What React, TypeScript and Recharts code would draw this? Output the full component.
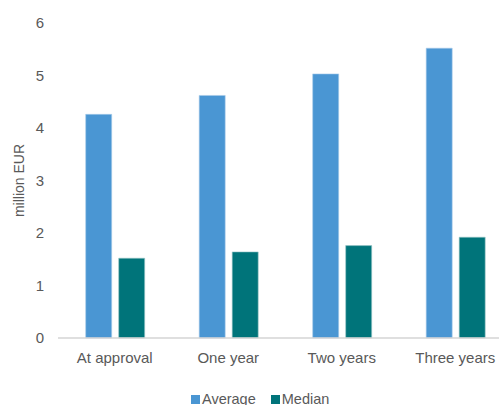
import React from 'react';
import { BarChart, Bar, XAxis, YAxis, Legend, Label } from 'recharts';

// Financing amount per project over time (million EUR)
const categories = ['At approval', 'One year', 'Two years', 'Three years'];
const averageValues = [4.26, 4.62, 5.03, 5.52];
const medianValues = [1.52, 1.64, 1.76, 1.92];
const yTicks = [0, 1, 2, 3, 4, 5, 6];

const AVG_COLOR = '#4A96D3';
const MED_COLOR = '#00747A';
const TEXT_COLOR = '#595959';
const FONT = '"Liberation Sans", Arial, sans-serif';

const data = categories.map((name, i) => ({
  name,
  Average: averageValues[i],
  Median: medianValues[i],
}));

const LegendContent = () => (
  <div
    style={{
      display: 'flex',
      alignItems: 'center',
      fontFamily: FONT,
      fontSize: 14.5,
      color: TEXT_COLOR,
      height: 20,
      lineHeight: '20px',
    }}
  >
    {[
      { label: 'Average', color: AVG_COLOR },
      { label: 'Median', color: MED_COLOR },
    ].map((item, i) => (
      <span
        key={item.label}
        style={{ display: 'inline-flex', alignItems: 'center', marginRight: i === 0 ? 15 : 0 }}
      >
        <span
          style={{ display: 'inline-block', width: 9, height: 9, background: item.color, marginRight: 2 }}
        />
        {item.label}
      </span>
    ))}
  </div>
);

const YLabel = (props: any) => {
  const vb = props.viewBox || {};
  const cy = vb.y + vb.height / 2;
  return (
    <text
      x={19}
      y={cy}
      transform={`rotate(-90, 19, ${cy})`}
      textAnchor="middle"
      dominantBaseline="central"
      fill={TEXT_COLOR}
      fontFamily={FONT}
      fontSize={14}
    >
      million EUR
    </text>
  );
};

export default function App() {
  return (
    <div
      style={{
        position: 'fixed',
        left: 0,
        top: 0,
        width: 499,
        height: 405,
        overflow: 'hidden',
        background: '#ffffff',
      }}
    >
      <BarChart
        width={530}
        height={405}
        data={data}
        margin={{ top: 23, right: 18, left: 0, bottom: 17 }}
        barCategoryGap={27.7}
        barGap={7}
      >
        <XAxis
          dataKey="name"
          height={30}
          tickLine={false}
          tickSize={0}
          tickMargin={14}
          axisLine={{ stroke: '#D4D4D4', strokeWidth: 1.5 }}
          tick={{ fill: TEXT_COLOR, fontFamily: FONT, fontSize: 15 }}
          interval={0}
        />
        <YAxis
          width={58}
          domain={[0, 6]}
          ticks={yTicks}
          tickLine={false}
          axisLine={false}
          tickSize={0}
          tickMargin={14}
          tick={{ fill: TEXT_COLOR, fontFamily: FONT, fontSize: 15 }}
        >
          <Label content={<YLabel />} />
        </YAxis>
        <Legend
          content={<LegendContent />}
          wrapperStyle={{ position: 'absolute', top: 389, left: 191, width: 200, height: 20 }}
        />
        <Bar dataKey="Average" fill={AVG_COLOR} stroke="#A8CBEA" strokeWidth={0.6} isAnimationActive={false} />
        <Bar dataKey="Median" fill={MED_COLOR} stroke="#9CC7C9" strokeWidth={0.6} isAnimationActive={false} />
      </BarChart>
    </div>
  );
}
